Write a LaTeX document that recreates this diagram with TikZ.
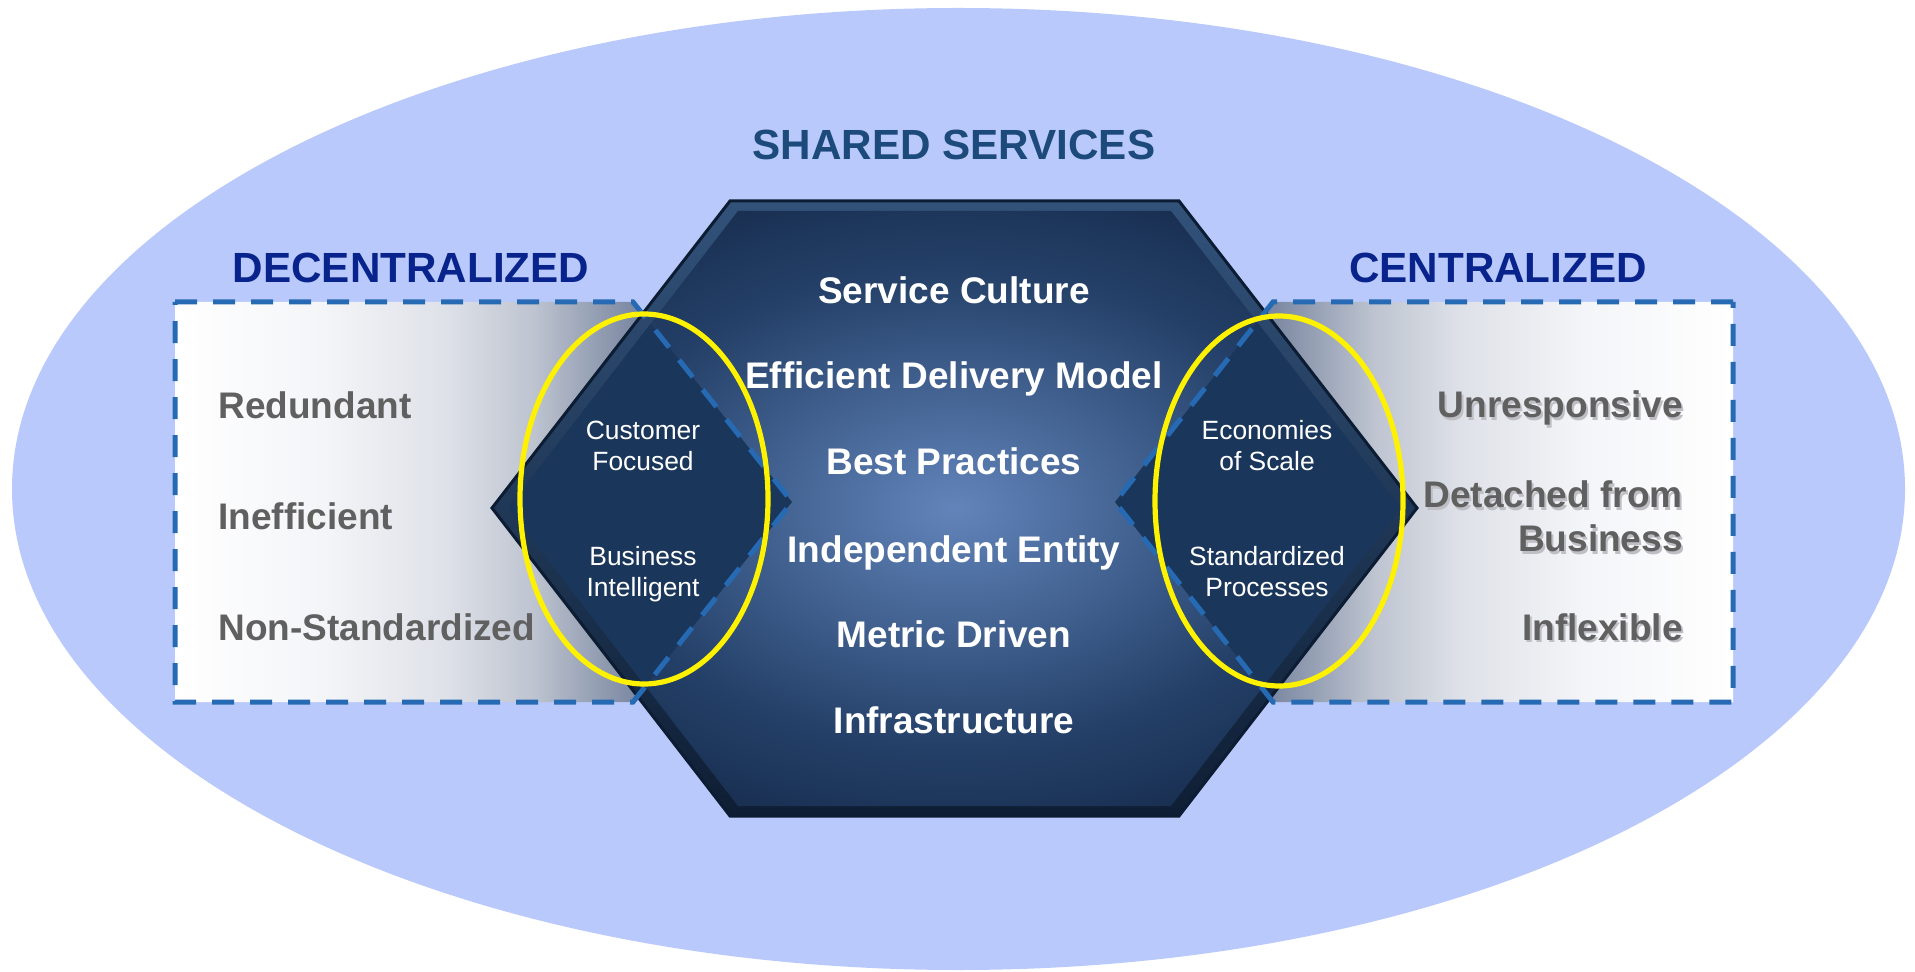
\documentclass[tikz,border=0pt]{standalone}
\usepackage{fontspec}
\setmainfont{Liberation Sans}
\definecolor{bgblue}{RGB}{185,201,252}
\definecolor{dashblue}{RGB}{38,106,180}
\definecolor{titlenavy}{RGB}{8,36,140}
\definecolor{sharedcol}{RGB}{28,74,122}
\definecolor{graytext}{RGB}{96,96,96}
\definecolor{shadowgray}{RGB}{190,190,196}
\definecolor{pA}{RGB}{244,245,248}
\definecolor{pB}{RGB}{222,225,232}
\definecolor{pC}{RGB}{190,196,208}
\definecolor{pD}{RGB}{125,138,163}
\definecolor{pE}{RGB}{70,90,120}
\definecolor{hexC}{RGB}{98,132,186}
\definecolor{hexB}{RGB}{70,102,150}
\definecolor{hexA}{RGB}{36,64,104}
\definecolor{hexD}{RGB}{22,43,76}
\definecolor{bevtop}{RGB}{50,82,122}
\definecolor{bevbot}{RGB}{14,30,52}
\definecolor{hexline}{RGB}{12,28,50}
\definecolor{diam}{RGB}{26,54,90}
\pgfdeclarehorizontalshading{fadeL}{100bp}{color(0bp)=(white); color(25bp)=(white); color(37bp)=(pA); color(47bp)=(pB); color(54bp)=(pC); color(62bp)=(pD); color(75bp)=(pE); color(100bp)=(pE)}
\pgfdeclareradialshading{hexglow}{\pgfpointorigin}{color(0bp)=(hexC); color(9bp)=(hexB); color(20bp)=(hexA); color(30bp)=(hexD); color(50bp)=(hexD)}
\begin{document}
\begin{tikzpicture}[x=0.5pt,y=-0.5pt,
  dashline/.style={draw=dashblue, line width=2.5pt, dash pattern=on 11pt off 8pt},
  hexitem/.style={inner sep=0pt, anchor=base, text=white, font=\fontsize{18.5}{22}\selectfont\bfseries},
  smallitem/.style={inner sep=0pt, anchor=base, text=white, font=\fontsize{13.2}{15.5}\selectfont},
  leftitem/.style={inner sep=0pt, anchor=base west, text=graytext, font=\fontsize{18.5}{22}\selectfont\bfseries},
  rightitem/.style={inner sep=0pt, anchor=base east, text=graytext, font=\fontsize{18.5}{22}\selectfont\bfseries},
  rightshadow/.style={inner sep=0pt, anchor=base east, text=shadowgray, font=\fontsize{18.5}{22}\selectfont\bfseries},
  titletext/.style={inner sep=0pt, anchor=base, text=titlenavy, font=\fontsize{21.1}{25}\selectfont\bfseries},
  yellowring/.style={draw=yellow, line width=2.6pt}
]
\useasboundingbox (0,0) rectangle (1915,972);
% outer ellipse
\fill[bgblue] (958.5,489) ellipse [x radius=946.5, y radius=481];
% side panels
\shade[shading=fadeL] (175,302) -- (633,302) -- (792,502) -- (633,702) -- (175,702) -- cycle;
\shade[shading=fadeL, shading angle=180] (1733,302) -- (1273,302) -- (1115,502) -- (1273,702) -- (1733,702) -- cycle;
% hexagon
\shade[top color=bevtop, bottom color=bevbot, draw=hexline, line width=1.5pt, line join=miter]
  (730,201) -- (1179,201) -- (1417,508) -- (1179,816) -- (730,816) -- (492,508) -- cycle;
\shade[shading=hexglow]
  (738,211) -- (1171,211) -- (1401,508) -- (1171,806) -- (738,806) -- (508,508) -- cycle;
% overlap diamonds
\begin{scope}
  \clip (175,302) -- (633,302) -- (792,502) -- (633,702) -- (175,702) -- cycle;
  \fill[diam] (738,211) -- (1171,211) -- (1401,508) -- (1171,806) -- (738,806) -- (508,508) -- cycle;
\end{scope}
\begin{scope}
  \clip (1733,302) -- (1273,302) -- (1115,502) -- (1273,702) -- (1733,702) -- cycle;
  \fill[diam] (738,211) -- (1171,211) -- (1401,508) -- (1171,806) -- (738,806) -- (508,508) -- cycle;
\end{scope}
% dashed borders
\draw[dashline] (175,302) -- (633,302) -- (792,502) -- (633,702) -- (175,702) -- cycle;
\draw[dashline] (1733,302) -- (1273,302) -- (1115,502) -- (1273,702) -- (1733,702) -- cycle;
% titles
\node[inner sep=0pt, anchor=base, text=sharedcol, font=\fontsize{21.1}{25}\selectfont\bfseries] (shared) at (954,160) {SHARED SERVICES};
\node[titletext] (decent) at (411,283) {DECENTRALIZED};
\node[titletext] (cent) at (1498,283) {CENTRALIZED};
% hexagon items
\node[hexitem] (h1) at (954,304) {Service Culture};
\node[hexitem] (h2) at (954,389) {Efficient Delivery Model};
\node[hexitem] (h3) at (954,474) {Best Practices};
\node[hexitem] (h4) at (954,562) {Independent Entity};
\node[hexitem] (h5) at (954,647) {Metric Driven};
\node[hexitem] (h6) at (954,733) {Infrastructure};
% left items
\node[leftitem] (l1) at (218,419) {Redundant};
\node[leftitem] (l2) at (218,530) {Inefficient};
\node[leftitem] (l3) at (218,640) {Non-Standardized};
% right items with shadow
\node[rightshadow] (r1s) at (1685,420.5) {Unresponsive};
\node[rightshadow] (r2s) at (1685,510.5) {Detached from};
\node[rightshadow] (r3s) at (1685,554.5) {Business};
\node[rightshadow] (r4s) at (1685,642.5) {Inflexible};
\node[rightitem] (r1) at (1683,418) {Unresponsive};
\node[rightitem] (r2) at (1683,508) {Detached from};
\node[rightitem] (r3) at (1683,552) {Business};
\node[rightitem] (r4) at (1683,640) {Inflexible};
% small labels
\node[smallitem] (s1a) at (643,440) {Customer};
\node[smallitem] (s1b) at (643,471) {Focused};
\node[smallitem] (s2a) at (643,565) {Business};
\node[smallitem] (s2b) at (643,596) {Intelligent};
\node[smallitem] (s3a) at (1267,440) {Economies};
\node[smallitem] (s3b) at (1267,471) {of Scale};
\node[smallitem] (s4a) at (1267,565) {Standardized};
\node[smallitem] (s4b) at (1267,596) {Processes};
% yellow rings
\draw[yellowring] (644,499) ellipse [x radius=124, y radius=185];
\draw[yellowring] (1279,501) ellipse [x radius=124, y radius=185];
\end{tikzpicture}
\end{document}
